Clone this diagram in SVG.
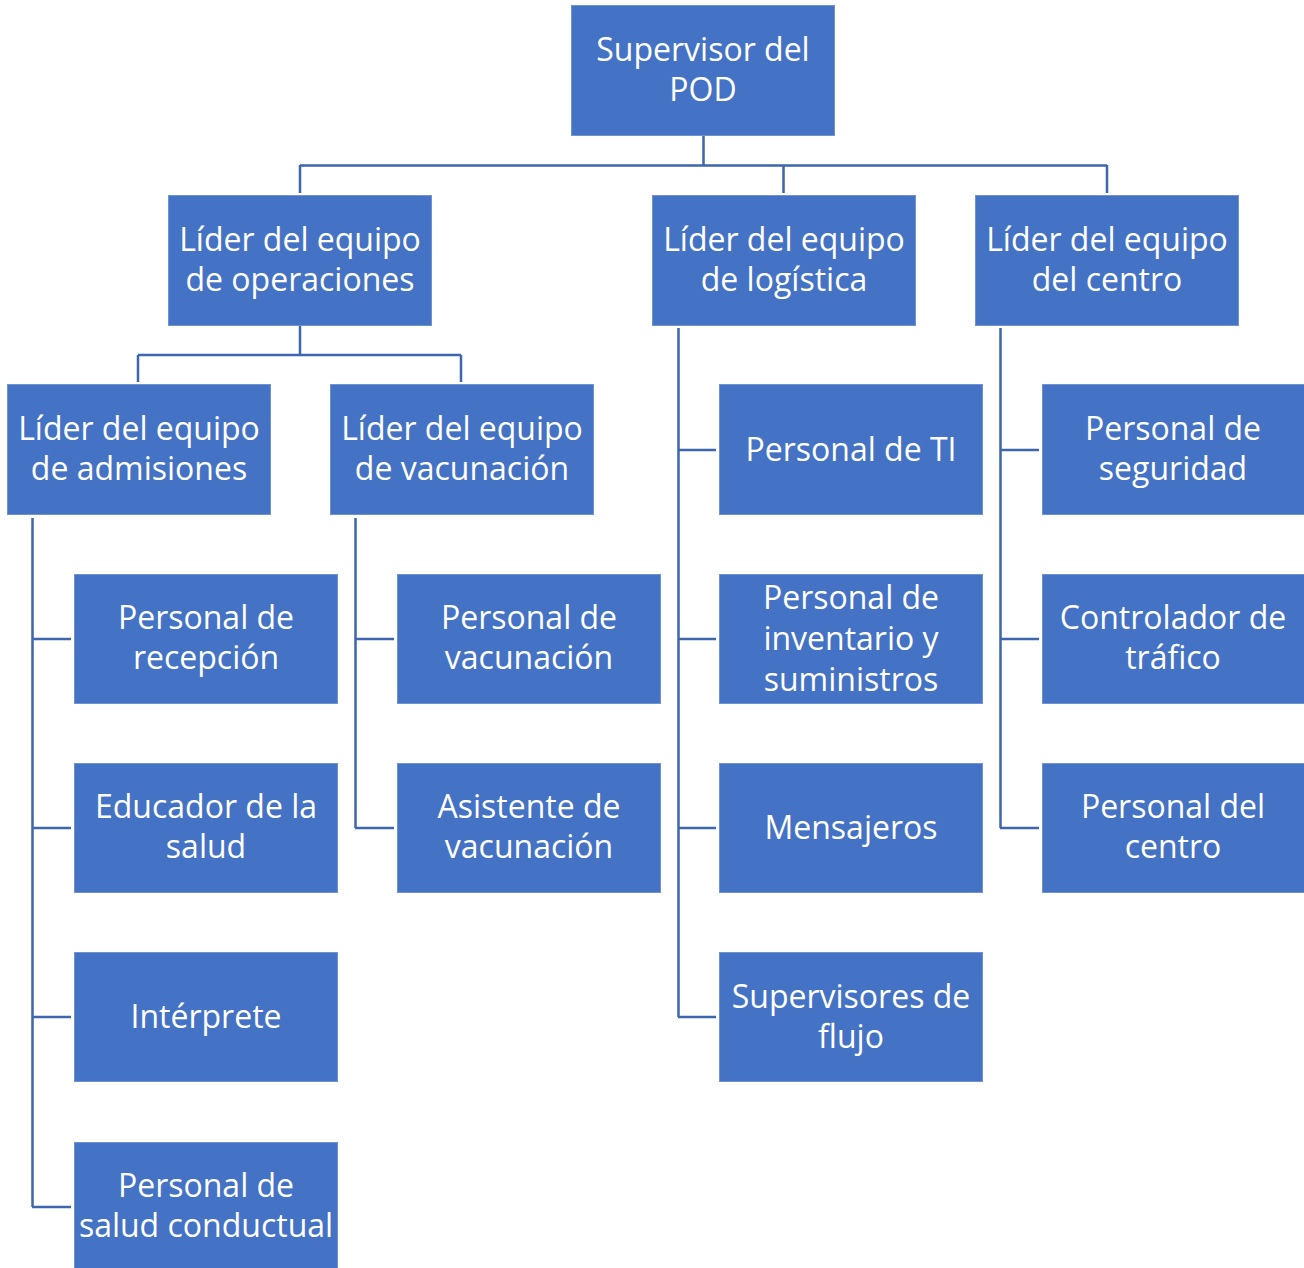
<svg xmlns="http://www.w3.org/2000/svg" width="1304" height="1268" viewBox="0 0 1304 1268">
<style>
.b{fill:#4472C4;stroke:#6F92D2;stroke-width:1}
.t{fill:#fff;font-family:"Open Sans","Noto Sans",sans-serif;font-size:32px;text-anchor:middle}
.c{fill:none;stroke:#3E66AE;stroke-width:2.5}
</style>
<rect width="1304" height="1268" fill="#fff"/>
<g id="connectors" class="c">
<path d="M703.5,136V165.5M300,165.5H1107M300,165V193M783.5,165V193M1107,165V193"/>
<path d="M300,325V355M138,355H461M138,355V382M461,355V382"/>
<path d="M32.5,518V1207M32,639H71M32,828H71M32,1017H71M32,1207H71"/>
<path d="M355.5,518V828M355,639H394M355,828H394"/>
<path d="M678.5,328V1017M678,450H716M678,639H716M678,828H716M678,1017H716"/>
<path d="M1000.5,328V828M1000,450H1039M1000,639H1039M1000,828H1039"/>
</g>
<g id="n-root"><rect class="b" x="571.5" y="5.5" width="263" height="130"/><text class="t" x="703" y="61">Supervisor del</text><text class="t" x="703" y="101">POD</text></g>
<g id="n-ops"><rect class="b" x="168.5" y="195.5" width="263" height="130"/><text class="t" x="300" y="251">Líder del equipo</text><text class="t" x="300" y="291">de operaciones</text></g>
<g id="n-log"><rect class="b" x="652.5" y="195.5" width="263" height="130"/><text class="t" x="784" y="251">Líder del equipo</text><text class="t" x="784" y="291">de logística</text></g>
<g id="n-cen"><rect class="b" x="975.5" y="195.5" width="263" height="130"/><text class="t" x="1107" y="251">Líder del equipo</text><text class="t" x="1107" y="291">del centro</text></g>
<g id="n-adm"><rect class="b" x="7.5" y="384.5" width="263" height="130"/><text class="t" x="139" y="440">Líder del equipo</text><text class="t" x="139" y="480">de admisiones</text></g>
<g id="n-vac"><rect class="b" x="330.5" y="384.5" width="263" height="130"/><text class="t" x="462" y="440">Líder del equipo</text><text class="t" x="462" y="480">de vacunación</text></g>
<g id="n-rec"><rect class="b" x="74.5" y="574.5" width="263" height="129"/><text class="t" x="206" y="629">Personal de</text><text class="t" x="206" y="669">recepción</text></g>
<g id="n-edu"><rect class="b" x="74.5" y="763.5" width="263" height="129"/><text class="t" x="206" y="818">Educador de la</text><text class="t" x="206" y="858">salud</text></g>
<g id="n-int"><rect class="b" x="74.5" y="952.5" width="263" height="129"/><text class="t" x="206" y="1028">Intérprete</text></g>
<g id="n-sal"><rect class="b" x="74.5" y="1142.5" width="263" height="130"/><text class="t" x="206" y="1197">Personal de</text><text class="t" x="206" y="1237">salud conductual</text></g>
<g id="n-pvac"><rect class="b" x="397.5" y="574.5" width="263" height="129"/><text class="t" x="529" y="629">Personal de</text><text class="t" x="529" y="669">vacunación</text></g>
<g id="n-avac"><rect class="b" x="397.5" y="763.5" width="263" height="129"/><text class="t" x="529" y="818">Asistente de</text><text class="t" x="529" y="858">vacunación</text></g>
<g id="n-ti"><rect class="b" x="719.5" y="384.5" width="263" height="130"/><text class="t" x="851" y="461">Personal de TI</text></g>
<g id="n-inv"><rect class="b" x="719.5" y="574.5" width="263" height="129"/><text class="t" x="851" y="609">Personal de</text><text class="t" x="851" y="650">inventario y</text><text class="t" x="851" y="691">suministros</text></g>
<g id="n-men"><rect class="b" x="719.5" y="763.5" width="263" height="129"/><text class="t" x="851" y="839">Mensajeros</text></g>
<g id="n-flu"><rect class="b" x="719.5" y="952.5" width="263" height="129"/><text class="t" x="851" y="1008">Supervisores de</text><text class="t" x="851" y="1048">flujo</text></g>
<g id="n-seg"><rect class="b" x="1042.5" y="384.5" width="263" height="130"/><text class="t" x="1173" y="440">Personal de</text><text class="t" x="1173" y="480">seguridad</text></g>
<g id="n-tra"><rect class="b" x="1042.5" y="574.5" width="263" height="129"/><text class="t" x="1173" y="629">Controlador de</text><text class="t" x="1173" y="669">tráfico</text></g>
<g id="n-pcen"><rect class="b" x="1042.5" y="763.5" width="263" height="129"/><text class="t" x="1173" y="818">Personal del</text><text class="t" x="1173" y="858">centro</text></g>
</svg>
